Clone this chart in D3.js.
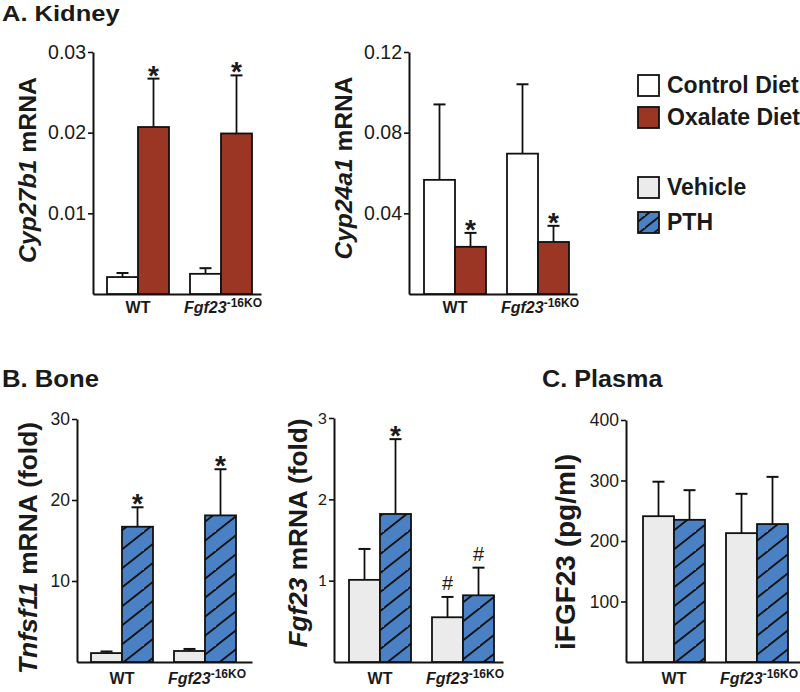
<!DOCTYPE html>
<html><head><meta charset="utf-8">
<script src="https://cdn.jsdelivr.net/npm/d3@7"></script>
<style>
body{margin:0;background:#fff}
svg text{font-family:"Liberation Sans",Arial,sans-serif;fill:#1a1a1a}
</style>
</head><body><svg id="chart" width="800" height="692"></svg>
<script>
// ---------- DATA ----------
const groups = ["WT", "Fgf23-16KO"];

// A. Kidney
const cyp27b1Control = [0.0021, 0.0025];
const cyp27b1ControlErr = [0.0005, 0.0007];
const cyp27b1Oxalate = [0.0207, 0.0199];
const cyp27b1OxalateErr = [0.0060, 0.0072];
const cyp27b1Marks = [["", "*"], ["", "*"]];
const cyp27b1Ticks = [0.01, 0.02, 0.03];

const cyp24a1Control = [0.0566, 0.0696];
const cyp24a1ControlErr = [0.0374, 0.0344];
const cyp24a1Oxalate = [0.0234, 0.0258];
const cyp24a1OxalateErr = [0.0069, 0.0080];
const cyp24a1Marks = [["", "*"], ["", "*"]];
const cyp24a1Ticks = [0.04, 0.08, 0.12];

// B. Bone
const tnfsf11Vehicle = [1.1, 1.36];
const tnfsf11VehicleErr = [0.2, 0.25];
const tnfsf11PTH = [16.7, 18.1];
const tnfsf11PTHErr = [2.4, 5.7];
const tnfsf11Marks = [["", "*"], ["", "*"]];
const tnfsf11Ticks = [10, 20, 30];

const fgf23Vehicle = [1.01, 0.55];
const fgf23VehicleErr = [0.38, 0.25];
const fgf23PTH = [1.82, 0.82];
const fgf23PTHErr = [0.92, 0.34];
const fgf23Marks = [["", "*"], ["#", "#"]];
const fgf23Ticks = [1, 2, 3];

// C. Plasma
const ifgf23Vehicle = [241, 213];
const ifgf23VehicleErr = [57, 65];
const ifgf23PTH = [235, 228];
const ifgf23PTHErr = [49, 78];
const ifgf23Marks = [["", ""], ["", ""]];
const ifgf23Ticks = [100, 200, 300, 400];

const dietLegend = ["Control Diet", "Oxalate Diet"];
const treatmentLegend = ["Vehicle", "PTH"];

// ---------- STYLE ----------
const RED = "#9b3624", WHITE = "#ffffff", GRAY = "#ebebeb", BLUE = "#4a80c4";
const svg = d3.select("#chart");

const defs = svg.append("defs");
function hatch(id, w, h) {
  const p = defs.append("pattern").attr("id", id).attr("patternUnits", "userSpaceOnUse")
    .attr("width", w).attr("height", h);
  p.append("rect").attr("width", w).attr("height", h).attr("fill", BLUE);
  p.append("path")
    .attr("d", `M${-w},${2*h}L${2*w},${-h}M${-2*w},${2*h}L${w},${-h}M0,${3*h}L${3*w},0`)
    .attr("stroke", "#111").attr("stroke-width", 1.8).attr("fill", "none");
}
hatch("hatch", 24, 19);
hatch("hatchSmall", 15, 12);

// text placed with an optional horizontal stretch
function sText(parent, x, y, size, sx, opts = {}) {
  return parent.append("text")
    .attr("transform", `translate(${x},${y}) scale(${sx},1)${opts.rot ? " rotate(-90)" : ""}`)
    .attr("text-anchor", opts.anchor || "start")
    .style("font-size", size + "px")
    .style("font-weight", opts.weight || "bold");
}

function panel(o) {
  const g = svg.append("g");
  const x = d3.scaleBand().domain(groups)
    .range([o.axisX + o.off, o.axisX + o.off + 62 + 83]).paddingInner(21 / 83);
  const bw = x.bandwidth() / 2;
  const y = d3.scaleLinear().domain([0, o.max]).range([o.bottom, o.top]);

  // y axis
  const ax = g.append("g").attr("transform", `translate(${o.axisX},0)`)
    .call(d3.axisLeft(y).tickValues(o.ticks).tickFormat(o.fmt)
      .tickSizeInner(5).tickSizeOuter(0).tickPadding(2));
  ax.select(".domain").attr("stroke", "#111").attr("stroke-width", 2);
  ax.selectAll(".tick line").attr("stroke", "#111").attr("stroke-width", 1.6);
  ax.selectAll(".tick text").attr("fill", "#222").style("font-size", o.tickSize + "px")
    .style("font-family", o.tickFont || null);

  // x axis line
  const xa = g.append("g").attr("transform", `translate(0,${o.bottom})`)
    .call(d3.axisBottom(d3.scaleLinear().range([o.axisX, o.xEnd])).ticks(0).tickSizeOuter(0));
  xa.select(".domain").attr("stroke", "#111").attr("stroke-width", 2);

  const series = [
    {v: o.s1, e: o.e1, fill: o.f1},
    {v: o.s2, e: o.e2, fill: o.f2}
  ];
  series.forEach((s, si) => {
    groups.forEach((grp, gi) => {
      const cx = x(grp) + si * bw;
      const v = s.v[gi], top = v + s.e[gi];
      const mid = cx + bw / 2;
      g.append("line").attr("x1", mid).attr("x2", mid).attr("y1", y(v)).attr("y2", y(top))
        .attr("stroke", "#111").attr("stroke-width", 1.8);
      g.append("line").attr("x1", mid - 6).attr("x2", mid + 6).attr("y1", y(top)).attr("y2", y(top))
        .attr("stroke", "#111").attr("stroke-width", 2);
      g.append("rect").attr("x", cx).attr("y", y(v)).attr("width", bw).attr("height", y(0) - y(v))
        .attr("fill", s.fill).attr("stroke", "#111").attr("stroke-width", 1.8);
      const m = o.marks[gi][si];
      if (m) {
        g.append("text").attr("x", mid).attr("y", m === "*" ? y(top) + 6 : y(top) - 7)
          .attr("text-anchor", "middle")
          .style("font-size", m === "*" ? "28px" : "20px")
          .style("font-weight", m === "*" ? "bold" : "normal").text(m);
      }
    });
  });

  // x labels
  g.append("text").attr("x", x("WT") + x.bandwidth() / 2).attr("y", o.labelY)
    .attr("text-anchor", "middle").style("font-size", "16px").style("font-weight", "bold").text("WT");
  const kt = g.append("text").attr("x", x("Fgf23-16KO") + x.bandwidth() / 2 + 2).attr("y", o.labelY)
    .attr("text-anchor", "middle").style("font-size", "16px").style("font-weight", "bold");
  kt.append("tspan").style("font-style", "italic").text("Fgf23");
  kt.append("tspan").attr("dy", -6).style("font-size", "12px").text("-16KO");

  // y label
  const yl = sText(g, o.ylX, o.ylY, o.ylSize, 1, {rot: true, anchor: "middle"});
  if (o.ylItal) yl.append("tspan").style("font-style", "italic").text(o.ylItal);
  yl.append("tspan").text(o.ylRest);
}

// Titles
sText(svg, 2, 21, 22, 1.16).text("A. Kidney");
sText(svg, 2, 387, 24, 1.07).text("B. Bone");
sText(svg, 542, 387, 24, 1.05).text("C. Plasma");

panel({axisX: 93, off: 14, xEnd: 261, top: 52, bottom: 294, max: 0.03, ticks: cyp27b1Ticks, fmt: d3.format(".2f"),
  s1: cyp27b1Control, e1: cyp27b1ControlErr, s2: cyp27b1Oxalate, e2: cyp27b1OxalateErr, f1: WHITE, f2: RED,
  marks: cyp27b1Marks, tickSize: 19.5, labelY: 313,
  ylX: 36, ylY: 170, ylSize: 24.8, ylItal: "Cyp27b1", ylRest: " mRNA"});
panel({axisX: 409, off: 15, xEnd: 577, top: 52, bottom: 294, max: 0.12, ticks: cyp24a1Ticks, fmt: d3.format(".2f"),
  s1: cyp24a1Control, e1: cyp24a1ControlErr, s2: cyp24a1Oxalate, e2: cyp24a1OxalateErr, f1: WHITE, f2: RED,
  marks: cyp24a1Marks, tickSize: 19.5, labelY: 313,
  ylX: 352, ylY: 168, ylSize: 24.6, ylItal: "Cyp24a1", ylRest: " mRNA"});
panel({axisX: 77, off: 14, xEnd: 252, top: 419, bottom: 662, max: 30, ticks: tnfsf11Ticks, fmt: d3.format("d"),
  s1: tnfsf11Vehicle, e1: tnfsf11VehicleErr, s2: tnfsf11PTH, e2: tnfsf11PTHErr, f1: GRAY, f2: "url(#hatch)",
  marks: tnfsf11Marks, tickSize: 17.5, labelY: 684,
  ylX: 37, ylY: 548, ylSize: 26.4, ylItal: "Tnfsf11", ylRest: " mRNA (fold)"});
panel({axisX: 334, off: 15, xEnd: 503, top: 418, bottom: 662, max: 3, ticks: fgf23Ticks, fmt: d3.format("d"),
  s1: fgf23Vehicle, e1: fgf23VehicleErr, s2: fgf23PTH, e2: fgf23PTHErr, f1: GRAY, f2: "url(#hatch)",
  marks: fgf23Marks, tickSize: 16, tickFont: "'Liberation Sans Narrow', Lato, sans-serif",
  labelY: 684, ylX: 307, ylY: 533, ylSize: 26.2, ylItal: "Fgf23", ylRest: " mRNA (fold)"});
panel({axisX: 626, off: 17, xEnd: 800, top: 420, bottom: 662, max: 400, ticks: ifgf23Ticks, fmt: d3.format("d"),
  s1: ifgf23Vehicle, e1: ifgf23VehicleErr, s2: ifgf23PTH, e2: ifgf23PTHErr, f1: GRAY, f2: "url(#hatch)",
  marks: ifgf23Marks, tickSize: 17.5, labelY: 684,
  ylX: 575, ylY: 552, ylSize: 28, ylItal: "", ylRest: "iFGF23 (pg/ml)"});

// Legend
const legendItems = [
  {t: dietLegend[0], f: WHITE, y: 75},
  {t: dietLegend[1], f: RED, y: 107},
  {t: treatmentLegend[0], f: GRAY, y: 177},
  {t: treatmentLegend[1], f: "url(#hatchSmall)", y: 212}
];
const lg = svg.append("g");
legendItems.forEach(d => {
  lg.append("rect").attr("x", 638).attr("y", d.y).attr("width", 21).attr("height", 21)
    .attr("fill", d.f).attr("stroke", "#111").attr("stroke-width", 1.8);
  sText(lg, 667, d.y + 18, 23, 1).text(d.t);
});
</script></body></html>
